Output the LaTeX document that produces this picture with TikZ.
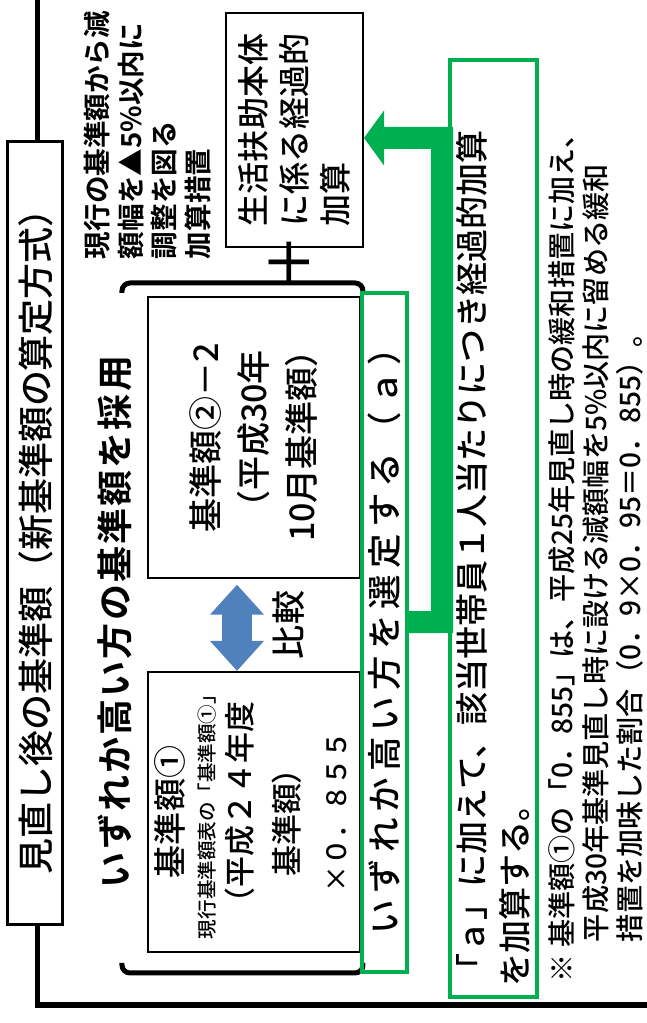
\documentclass[tikz,border=0pt]{standalone}
\usepackage{fontspec}
\setmainfont{Noto Sans CJK JP}[UprightFont=* Medium, BoldFont=* Bold]
\usepackage{tikz}
\usetikzlibrary{arrows.meta}
\definecolor{selgreen}{RGB}{0,176,80}
\definecolor{cmpblue}{RGB}{79,129,189}
\newcommand{\fsz}[2]{\fontsize{#1}{#2}\selectfont}

\begin{document}
\begin{tikzpicture}[x=0.025cm, y=0.025cm,
  box/.style={draw, line width=0.05cm, inner sep=0pt},
  selbox/.style={draw=selgreen, line width=0.1cm, inner sep=0pt},
  bracket/.style={line width=0.125cm, rounded corners=0.2cm},
  cmparrow/.style={cmpblue, line width=0.75cm, {Triangle[length=0.75cm, width=1.3cm]}-{Triangle[length=0.75cm, width=1.3cm]}},
  linkarrow/.style={selgreen, line width=0.55cm, -{Triangle[length=0.5cm, width=1.35cm]}}]
\begin{scope}[rotate=90, transform shape]
\useasboundingbox (0,0) rectangle (1023,646);
% frame and title
\draw[line width=0.125cm] (18,-20) rectangle (1026,608);
\node[box, line width=0.075cm, fill=white, minimum width=19.55cm, minimum height=1.375cm,
  font=\fsz{25.6pt}{28pt}] (title) at (490,610.5) {見直し後の基準額（新基準額の算定方式）};
\node[font={\fsz{25.6pt}{30pt}\bfseries\addfontfeature{LetterSpace=6}}] (head) at (401,531) {いずれか高い方の基準額を採用};
\node[anchor=west, align=left, font={\fsz{19.6pt}{23.8pt}\bfseries}] (memo) at (759,498.5) {現行の基準額から減\\額幅を▲5\%以内に\\調整を図る\\加算措置};
% the two base amounts
\node[box, minimum width=7cm, minimum height=5.3cm] (kijun1) at (211,392) {};
\node[font=\fsz{23.5pt}{24pt}] (k1name) at (211,476) {基準額①};
\node[font=\fsz{13.9pt}{14pt}] (k1note) at (211,439) {現行基準額表の「基準額①」};
\node[font=\fsz{22pt}{24pt}] (k1year) at (213,406) {（平成２４年度};
\node[font=\fsz{22pt}{24pt}] (k1base) at (208,359) {基準額）};
\node[font=\fsz{19pt}{24pt}] (k1rate) at (211,309) {×０．８５５};
\node[box, minimum width=7.025cm, minimum height=5.3cm, align=center, font=\fsz{24.2pt}{34.1pt}] (kijun2) at (585.5,392) {基準額②－2\\（平成30年\\10月基準額）};
\draw[cmparrow, shorten >=0.14cm] ([yshift=0.425cm]kijun1.east) -- ([yshift=0.425cm]kijun2.west);
\node[font=\fsz{24.2pt}{24pt}] (cmp) at (398,357) {比較};
% brackets and plus
\draw[bracket] (60,524) -- (50,524) -- (50,283) -- (60,283);
\draw[bracket] (730,524) -- (740,524) -- (740,283) -- (730,283);
\node[font=\fsz{40pt}{40pt}] (plus) at (761,356) {＋};
\node[box, minimum width=5.85cm, minimum height=3.425cm, align=left, font=\fsz{22.8pt}{29.2pt}] (kasan) at (893,351.5) {生活扶助本体\\に係る経過的\\加算};
% selection and add-on
\node[selbox, minimum width=16.975cm, minimum height=1.125cm, font={\fsz{24.5pt}{24pt}\addfontfeature{LetterSpace=18}}] (select) at (390.5,261.5) {いずれか高い方を選定する（ａ）};
\node[selbox, minimum width=23.425cm, minimum height=2.175cm, text width=22.9cm, align=left, font=\fsz{23.5pt}{30.6pt}] (addon) at (494.5,152.5) {「ａ」に加えて、該当世帯員１人当たりにつき経過的加算\\を加算する。};
\coordinate (turn1) at (401,204);
\coordinate (turn2) at (885,204);
\draw[linkarrow] ([xshift=0.26cm]select.south) -- (turn1) -- (turn2) -- ([xshift=-0.2cm]kasan.south);
% footnote
\node[anchor=west, align=left, font=\fsz{20pt}{24.2pt}] (foot) at (36,50) {※ 基準額①の「0．855」は、平成25年見直し時の緩和措置に加え、\\\hspace*{1cm}平成30年基準見直し時に設ける減額幅を5\%以内に留める緩和\\\hspace*{1cm}措置を加味した割合（0．9×0．95＝0．855）。};
\end{scope}
\end{tikzpicture}
\end{document}
